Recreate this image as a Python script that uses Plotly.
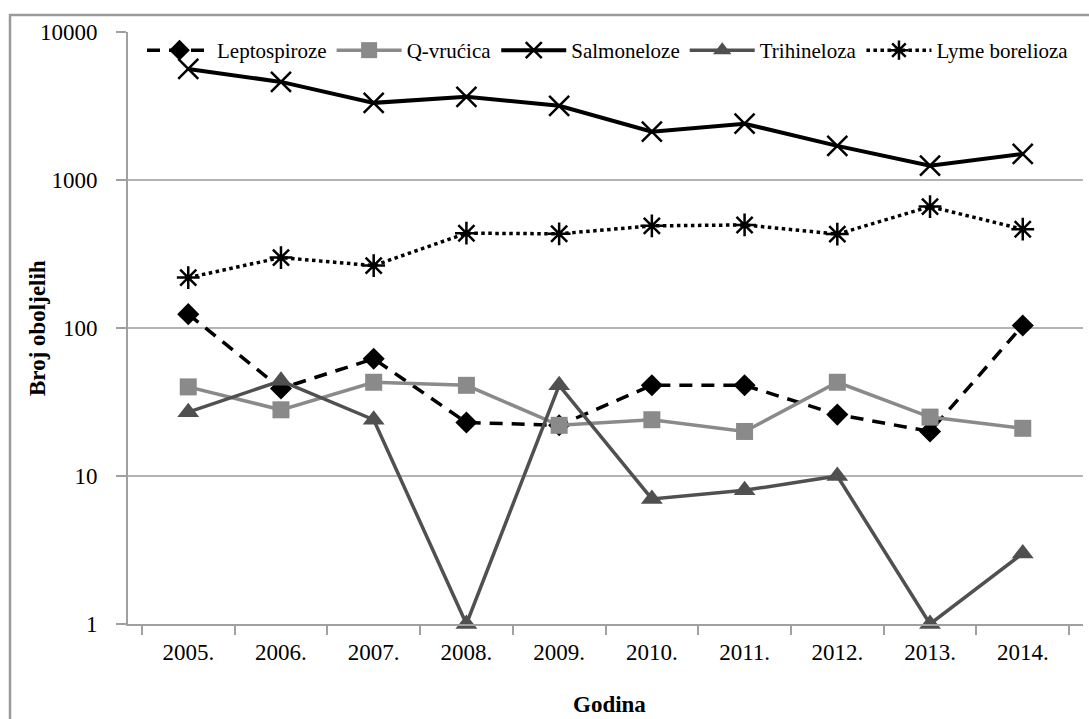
import plotly.graph_objects as go

years = ["2005.", "2006.", "2007.", "2008.", "2009.", "2010.", "2011.", "2012.", "2013.", "2014."]
leptospiroze = [124, 39, 62, 23, 22, 41, 41, 26, 20, 104]
q_vrucica = [40, 28, 43, 41, 22, 24, 20, 43, 25, 21]
salmoneloze = [5630, 4600, 3320, 3650, 3170, 2120, 2400, 1700, 1250, 1500]
trihineloza = [27, 44, 24, 1, 41, 7, 8, 10, 1, 3]
lyme = [219, 299, 264, 437, 433, 490, 497, 431, 661, 465]

ytick_vals = [1, 10, 100, 1000, 10000]
ytick_text = ["1", "10", "100", "1000", "10000"]

FONT = "Liberation Serif"

fig = go.Figure()

fig.add_trace(go.Scatter(
    x=years, y=leptospiroze, name="Leptospiroze", mode="lines+markers",
    line=dict(color="black", width=3.5, dash="13px,9px"),
    marker=dict(symbol="diamond", size=17, color="black"),
    cliponaxis=False))
fig.add_trace(go.Scatter(
    x=years, y=q_vrucica, name="Q-vrućica", mode="lines+markers",
    line=dict(color="#8a8a8a", width=3.5),
    marker=dict(symbol="square", size=17, color="#8a8a8a"),
    cliponaxis=False))
fig.add_trace(go.Scatter(
    x=years, y=salmoneloze, name="Salmoneloze", mode="lines+markers",
    line=dict(color="black", width=4),
    marker=dict(symbol="x-thin-open", size=20, color="black", line=dict(width=2.5, color="black")),
    cliponaxis=False))
fig.add_trace(go.Scatter(
    x=years, y=trihineloza, name="Trihineloza", mode="lines+markers",
    line=dict(color="#505050", width=3.5),
    marker=dict(symbol="triangle-up", size=19, color="#505050"),
    cliponaxis=False))
fig.add_trace(go.Scatter(
    x=years, y=lyme, name="Lyme borelioza", mode="lines+markers",
    line=dict(color="black", width=3.5, dash="dot"),
    marker=dict(symbol="asterisk-open", size=19, color="black", line=dict(width=2.5, color="black")),
    cliponaxis=False))

W, H = 1089, 719
L, R, T, B = 128, 6, 32, 95
pw = W - L - R
ph = H - T - B

def px_x(p):
    return (p - L) / pw

def px_y(p):
    return 1 - (p - T) / ph

fig.add_shape(type="rect", xref="paper", yref="paper",
              x0=px_x(10), x1=px_x(1100), y0=px_y(15), y1=px_y(740),
              line=dict(color="#9a9a9a", width=2.5), fillcolor="rgba(0,0,0,0)", layer="below")

fig.add_annotation(text="<b>Broj oboljelih</b>", xref="paper", yref="paper",
                   x=px_x(37), y=px_y(328), textangle=-90, showarrow=False,
                   xanchor="center", yanchor="middle",
                   font=dict(family=FONT, size=23, color="black"))
fig.add_annotation(text="<b>Godina</b>", xref="paper", yref="paper",
                   x=px_x(609), y=px_y(704), showarrow=False,
                   xanchor="center", yanchor="middle",
                   font=dict(family=FONT, size=23, color="black"))

fig.update_layout(
    width=W, height=H,
    margin=dict(l=L, r=R, t=T, b=B, autoexpand=False),
    paper_bgcolor="white", plot_bgcolor="white",
    font=dict(family=FONT, size=23, color="black"),
    showlegend=True,
    legend=dict(orientation="h", x=px_x(142), y=px_y(30), xanchor="left", yanchor="top",
                font=dict(family=FONT, size=21, color="black"),
                bgcolor="rgba(0,0,0,0)", itemwidth=65, tracegroupgap=0),
    xaxis=dict(
        type="category", tickson="boundaries", ticks="outside", ticklen=9,
        tickcolor="#a0a0a0", tickwidth=2, automargin=False,
        showline=True, linecolor="#a0a0a0", linewidth=2,
        showgrid=False, tickfont=dict(family=FONT, size=23),
        ticklabelstandoff=6,
    ),
    yaxis=dict(
        type="log", range=[0, 4], tickvals=ytick_vals, ticktext=ytick_text,
        ticks="outside", ticklen=10, tickcolor="#a0a0a0", tickwidth=2,
        showline=True, linecolor="#a0a0a0", linewidth=2, automargin=False,
        showgrid=True, gridcolor="#b4b4b4", gridwidth=2, zeroline=False,
        tickfont=dict(family=FONT, size=23),
        ticklabelstandoff=14,
    ),
)

fig.write_html("out.html", config={"displayModeBar": False},
               post_script="document.body.style.margin='0';document.body.style.overflow='hidden';")
